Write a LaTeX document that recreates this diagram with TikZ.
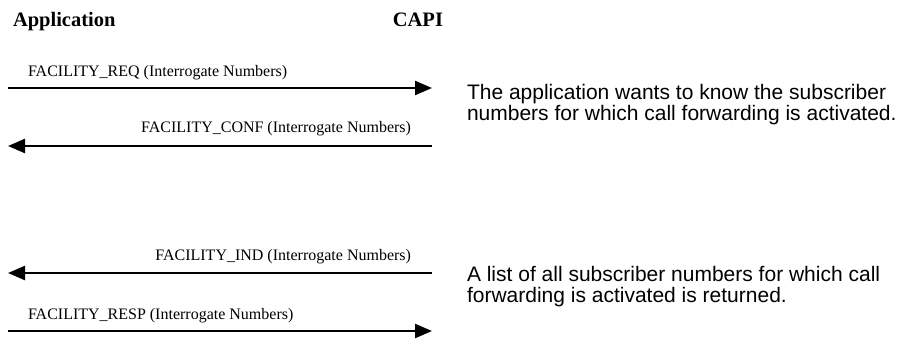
\documentclass[tikz,border=0pt]{standalone}
\usepackage{fontspec}
\setmainfont{Liberation Serif}
\setsansfont{Liberation Sans}
\usetikzlibrary{arrows.meta}
\tikzset{
    every node/.style={inner sep=0pt, outer sep=0pt},
    party/.style={font=\bfseries\fontsize{20.5bp}{22bp}\selectfont},
    msg/.style={line width=2.4bp, -{Triangle[length=17bp, width=14bp]}},
    msglabel/.style={font=\fontsize{16bp}{19bp}\selectfont},
    note/.style={font=\sffamily\fontsize{21bp}{21.5bp}\selectfont,
        align=left, anchor=north west},
}
\begin{document}
\begin{tikzpicture}[x=1bp, y=-1bp]
    \useasboundingbox (0, 0) rectangle (904, 340);
    \node[party, anchor=base west] (app) at (13, 26) {Application};
    \node[party, anchor=base east] (capi) at (443, 26) {CAPI};
    % message ends
    \coordinate (a1) at (8, 88);     \coordinate (c1) at (432, 88);
    \coordinate (a2) at (8, 146);    \coordinate (c2) at (432, 146);
    \coordinate (a3) at (8, 273);    \coordinate (c3) at (432, 273);
    \coordinate (a4) at (8, 331);    \coordinate (c4) at (432, 331);
    \draw[msg] (a1) -- (c1) node[msglabel, pos=0, anchor=base west,
        xshift=20bp, yshift=12bp] (req) {FACILITY\_REQ (Interrogate Numbers)};
    \draw[msg] (c2) -- (a2) node[msglabel, pos=0, anchor=base east,
        xshift=-21bp, yshift=14bp] (conf) {FACILITY\_CONF (Interrogate Numbers)};
    \draw[msg] (c3) -- (a3) node[msglabel, pos=0, anchor=base east,
        xshift=-21bp, yshift=13bp] (ind) {FACILITY\_IND (Interrogate Numbers)};
    \draw[msg] (a4) -- (c4) node[msglabel, pos=0, anchor=base west,
        xshift=20bp, yshift=12bp] (resp) {FACILITY\_RESP (Interrogate Numbers)};
    \node[note] (note1) at (467, 84) {The application wants to know the subscriber\\
        numbers for which call forwarding is activated.};
    \node[note] (note2) at (467, 266) {A list of all subscriber numbers for which call\\
        forwarding is activated is returned.};
\end{tikzpicture}
\end{document}
